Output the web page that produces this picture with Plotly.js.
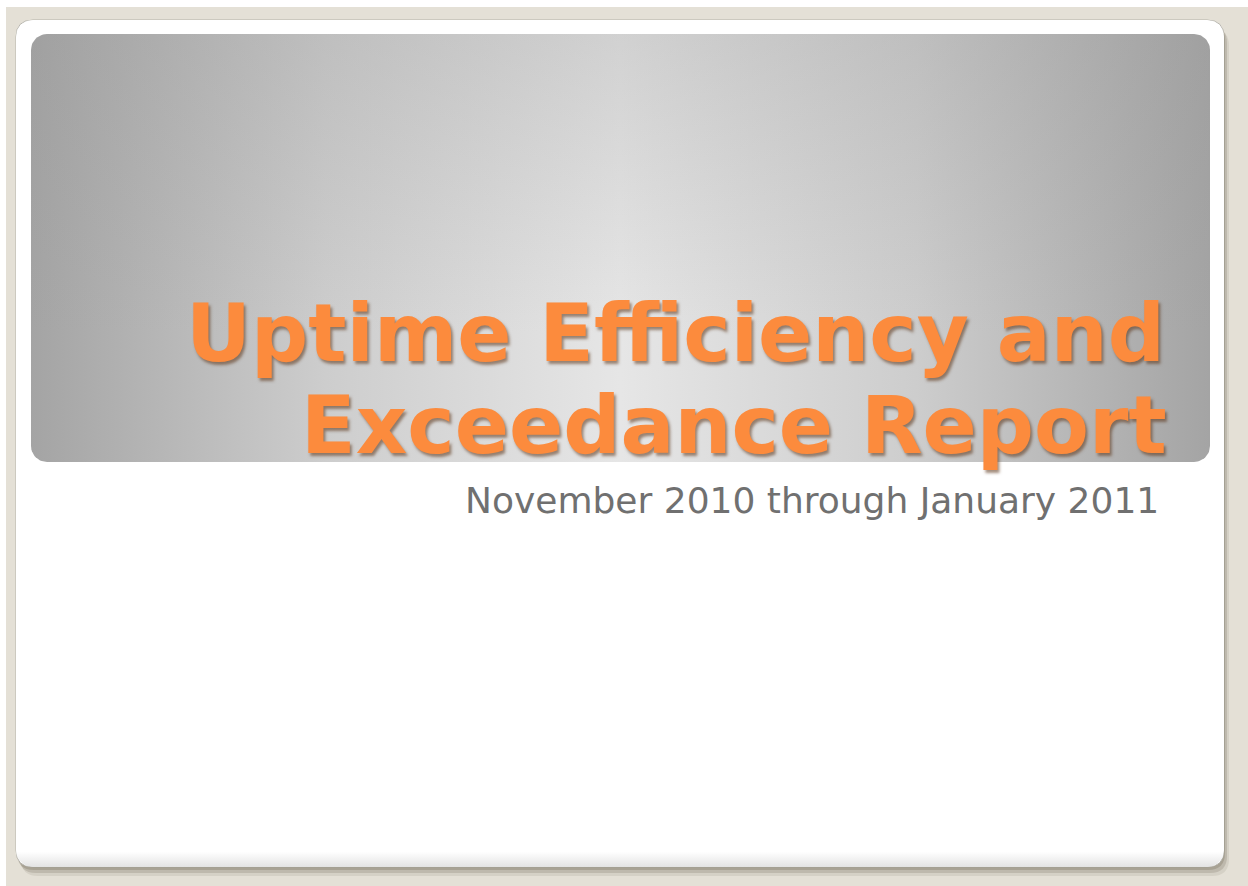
<!DOCTYPE html>
<html>
<head>
<meta charset="utf-8">
<script src="https://cdn.plot.ly/plotly-3.0.1.min.js"></script>
<style>
  html, body { margin: 0; padding: 0; background: #e4e0d6; }
  #chart { width: 1248px; height: 886px; }
</style>
</head>
<body>
<div id="chart"></div>
<script>
// ---- Slide text content ----
var titleLines = ["Uptime Efficiency and", "Exceedance Report"];
var subtitleLines = ["November 2010 through January 2011"];

// ---- Geometry (pixels in a 1248 x 886 slide) ----
var W = 1248, H = 886;
var card = {x0: 16, y0: 20, x1: 1224, y1: 867, r: 17};
var header = {x0: 31, y0: 34, x1: 1210, y1: 462, r: 16};

function roundRect(b, n) {
  n = n || 12;
  var xs = [], ys = [];
  var corners = [
    [b.x1 - b.r, b.y0 + b.r, -Math.PI / 2, 0],
    [b.x1 - b.r, b.y1 - b.r, 0, Math.PI / 2],
    [b.x0 + b.r, b.y1 - b.r, Math.PI / 2, Math.PI],
    [b.x0 + b.r, b.y0 + b.r, Math.PI, 1.5 * Math.PI]
  ];
  corners.forEach(function (c) {
    for (var i = 0; i <= n; i++) {
      var a = c[2] + (c[3] - c[2]) * i / n;
      xs.push(c[0] + b.r * Math.cos(a));
      ys.push(c[1] + b.r * Math.sin(a));
    }
  });
  xs.push(xs[0]); ys.push(ys[0]);
  return {x: xs, y: ys};
}

function rrPath(b) {
  var r = b.r;
  return 'M' + (b.x0 + r) + ',' + b.y0 +
    ' L' + (b.x1 - r) + ',' + b.y0 +
    ' Q' + b.x1 + ',' + b.y0 + ' ' + b.x1 + ',' + (b.y0 + r) +
    ' L' + b.x1 + ',' + (b.y1 - r) +
    ' Q' + b.x1 + ',' + b.y1 + ' ' + (b.x1 - r) + ',' + b.y1 +
    ' L' + (b.x0 + r) + ',' + b.y1 +
    ' Q' + b.x0 + ',' + b.y1 + ' ' + b.x0 + ',' + (b.y1 - r) +
    ' L' + b.x0 + ',' + (b.y0 + r) +
    ' Q' + b.x0 + ',' + b.y0 + ' ' + (b.x0 + r) + ',' + b.y0 + ' Z';
}

function offset(b, dx, dy) {
  return {x0: b.x0 + dx, y0: b.y0 + dy, x1: b.x1 + dx, y1: b.y1 + dy, r: b.r};
}

var hdr = roundRect(header, 14);
var cardPts = roundRect(card, 14);

var traces = [
  // faint grey at the bottom of the card
  {
    type: 'scatter', mode: 'lines', x: cardPts.x, y: cardPts.y,
    fill: 'toself', line: {width: 0}, hoverinfo: 'skip',
    fillgradient: {type: 'vertical',
      colorscale: [[0, '#e3e3e3'], [0.018, '#ffffff'], [1, '#ffffff']]}
  },
  // header: horizontal grey gradient
  {
    type: 'scatter', mode: 'lines', x: hdr.x, y: hdr.y,
    fill: 'toself', line: {width: 0}, hoverinfo: 'skip',
    fillgradient: {type: 'horizontal',
      colorscale: [[0, '#a4a4a4'], [0.25, '#cdcdcd'], [0.5, '#e6e6e6'], [0.75, '#cdcdcd'], [1, '#a4a4a4']]}
  },
  // header: darken the top a little (radial look centred low)
  {
    type: 'scatter', mode: 'lines', x: hdr.x, y: hdr.y,
    fill: 'toself', line: {width: 0}, hoverinfo: 'skip',
    fillgradient: {type: 'vertical',
      colorscale: [[0, 'rgba(150,150,150,0)'], [0.3, 'rgba(150,150,150,0)'], [1, 'rgba(150,150,150,0.26)']]}
  }
];

var shapes = [
  {type: 'rect', xref: 'x', yref: 'y', x0: 0, x1: W, y0: 0, y1: 7, fillcolor: '#ffffff', line: {width: 0}, layer: 'below'},
  {type: 'rect', xref: 'x', yref: 'y', x0: 0, x1: 6, y0: 0, y1: H, fillcolor: '#ffffff', line: {width: 0}, layer: 'below'},
  {type: 'path', xref: 'x', yref: 'y', path: rrPath(offset(card, 5, 9)), fillcolor: 'rgba(90,80,60,0.10)', line: {width: 0}, layer: 'below'},
  {type: 'path', xref: 'x', yref: 'y', path: rrPath(offset(card, 3, 6)), fillcolor: 'rgba(90,80,60,0.18)', line: {width: 0}, layer: 'below'},
  {type: 'path', xref: 'x', yref: 'y', path: rrPath(offset(card, 1, 3)), fillcolor: 'rgba(90,80,60,0.22)', line: {width: 0}, layer: 'below'},
  {type: 'path', xref: 'x', yref: 'y', path: rrPath(card), fillcolor: '#ffffff', line: {width: 1, color: 'rgba(160,158,150,0.7)'}, layer: 'below'}
];

var titleFont = {family: 'DejaVu Sans, Verdana, sans-serif', size: 80, weight: 'bold', color: '#fc8b3d',
  shadow: '2px 3px 3px rgba(90,50,20,0.55)'};
var subFont = {family: 'DejaVu Sans, Verdana, sans-serif', size: 36, color: '#707070'};

var annotations = [
  {text: titleLines[0], xref: 'x', yref: 'y', x: 1167, y: 333, xanchor: 'right', yanchor: 'middle', showarrow: false, font: titleFont},
  {text: titleLines[1], xref: 'x', yref: 'y', x: 1169, y: 425, xanchor: 'right', yanchor: 'middle', showarrow: false, font: titleFont},
  {text: subtitleLines[0], xref: 'x', yref: 'y', x: 1161, y: 500, xanchor: 'right', yanchor: 'middle', showarrow: false, font: subFont}
];

var layout = {
  width: W, height: H,
  margin: {l: 0, r: 0, t: 0, b: 0, pad: 0},
  paper_bgcolor: '#e4e0d6', plot_bgcolor: 'rgba(0,0,0,0)',
  showlegend: false,
  xaxis: {range: [0, W], visible: false, fixedrange: true},
  yaxis: {range: [H, 0], visible: false, fixedrange: true},
  shapes: shapes,
  annotations: annotations,
  hovermode: false
};

Plotly.newPlot('chart', traces, layout, {displayModeBar: false, staticPlot: true});
</script>
</body>
</html>
